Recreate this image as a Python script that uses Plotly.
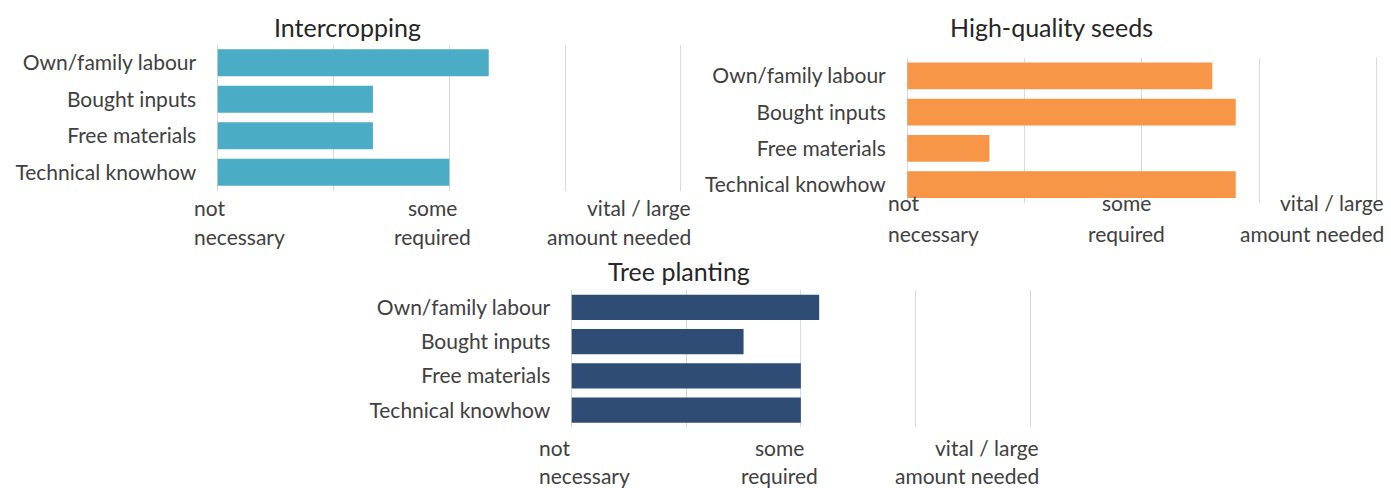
import plotly.graph_objects as go

W, H = 1391, 488

categories = ["Own/family labour", "Bought inputs", "Free materials", "Technical knowhow"]
intercropping = [2.34, 1.34, 1.34, 2.0]
seeds = [2.6, 2.8, 0.7, 2.8]
trees = [2.16, 1.5, 2.0, 2.0]
titles = ["Intercropping", "High-quality seeds", "Tree planting"]
colors = ["#4BACC6", "#F79646", "#2E4C74"]
tick_vals = [0, 2, 4]
tick_lines = [["not", "necessary"], ["some", "required"], ["vital / large", "amount needed"]]

FONT = "Lato"
TXT = "#404040"
PAD = 0.03  # range padding so that edge gridlines are drawn


def px(x):
    return x / W


def py(y):
    return 1 - y / H


# panel geometry in page pixels: (x at 0, x at 4, y top, y bottom)
panels = [
    dict(x0=217.7, x1=681.0, y0=44.5, y1=190.5, title_x=347, title_y=27,
         lab_y=[207, 237], shifts=[-26, -17, 12]),
    dict(x0=907.3, x1=1376.5, y0=57.8, y1=202.8, title_x=1051, title_y=27,
         lab_y=[203, 233], shifts=[-21, -15, 9]),
    dict(x0=571.7, x1=1030.0, y0=290.2, y1=427.3, title_x=679, title_y=271,
         lab_y=[447, 475], shifts=[-35, -21, 11]),
]
series = [intercropping, seeds, trees]

fig = go.Figure()
layout = dict(width=W, height=H, margin=dict(l=0, r=0, t=0, b=0),
              paper_bgcolor="white", plot_bgcolor="white", showlegend=False,
              bargap=0.26, annotations=[])

for i, (p, vals) in enumerate(zip(panels, series)):
    n = "" if i == 0 else str(i + 1)
    unit = (p["x1"] - p["x0"]) / 4
    fig.add_trace(go.Bar(x=vals, y=categories, orientation="h",
                         marker=dict(color=colors[i], line=dict(width=0)),
                         xaxis="x" + n, yaxis="y" + n))
    layout["xaxis" + n] = dict(domain=[px(p["x0"] - PAD * unit), px(p["x1"] + PAD * unit)],
                               range=[-PAD, 4 + PAD],
                               anchor="y" + n, tickmode="array", tickvals=[0, 1, 2, 3, 4],
                               showgrid=True, gridcolor="#D9D9D9", gridwidth=1, zeroline=False,
                               showticklabels=False, showline=False, fixedrange=True)
    layout["yaxis" + n] = dict(domain=[py(p["y1"]), py(p["y0"])],
                               anchor="x" + n, autorange="reversed",
                               showgrid=False, zeroline=False, showline=False,
                               ticklabelstandoff=17,
                               tickfont=dict(family=FONT, size=21, color=TXT))
    layout["annotations"].append(dict(text=titles[i], xref="paper", yref="paper",
                                      x=px(p["title_x"]), y=py(p["title_y"]),
                                      xanchor="center", yanchor="middle", showarrow=False,
                                      font=dict(family=FONT, size=25, color="#262626")))
    anchors = ["left", "center", "right"]
    for j, tv in enumerate(tick_vals):
        for k, line in enumerate(tick_lines[j]):
            layout["annotations"].append(dict(
                text=line, xref="x" + n, yref="paper", x=tv, xshift=p["shifts"][j],
                y=py(p["lab_y"][k]), xanchor=anchors[j], yanchor="middle",
                showarrow=False, font=dict(family=FONT, size=21, color=TXT)))

fig.update_layout(**layout)
# remove the default page margin so the figure fills the 1391x488 window exactly
fig.write_html("out.html", config={"displayModeBar": False},
               post_script="document.body.style.margin='0';document.body.style.overflow='hidden';")
